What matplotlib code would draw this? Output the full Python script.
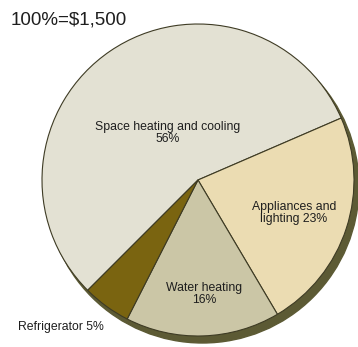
import matplotlib.pyplot as plt
from matplotlib.patches import Circle

# household energy bill split
categories = ["Space heating and cooling", "Appliances and lighting", "Water heating", "Refrigerator"]
shares = [56, 23, 16, 5]
label_fmt = ["Space heating and cooling\n{}%", "Appliances and\nlighting {}%", "Water heating\n{}%", "Refrigerator {}%"]
total_text = "100%=$1,500"

colors = ["#e3e1d3", "#ebdcb2", "#cbc6a6", "#7a6410"]
rim_color = "#5c5a34"

W, H = 358, 347
fig = plt.figure(figsize=(W / 100, H / 100), dpi=100)
ax = fig.add_axes([0, 0, 1, 1])

plt.rcParams["font.family"] = ["Liberation Sans", "DejaVu Sans"]

cx, cy, r = 198, H - 180, 156

# dark rim showing under the lower right of the pie
ax.add_patch(Circle((cx + 4.5, cy - 6.5), r + 0.5, color=rim_color, zorder=1))

ax.pie(shares, colors=colors, startangle=225, counterclock=False,
       center=(cx, cy), radius=r, frame=True,
       wedgeprops=dict(edgecolor="#3e3b24", linewidth=0.8, zorder=2))
ax.set_xlim(0, W)
ax.set_ylim(0, H)
ax.axis("off")

# labels placed inside / beside each slice
label_pos = [(168, 133), (294, 213), (204, 294), (61, 327)]
for fmt, val, (lx, ly) in zip(label_fmt, shares, label_pos):
    ax.text(lx, H - ly, fmt.format(val), ha="center", va="center",
            fontsize=8.8, color="#1e1e1e", linespacing=1.1, zorder=5)

ax.text(11, H - 24, total_text, ha="left", va="baseline", fontsize=13.5, color="#1e1e1e")

fig.savefig("out.png", dpi=100)
